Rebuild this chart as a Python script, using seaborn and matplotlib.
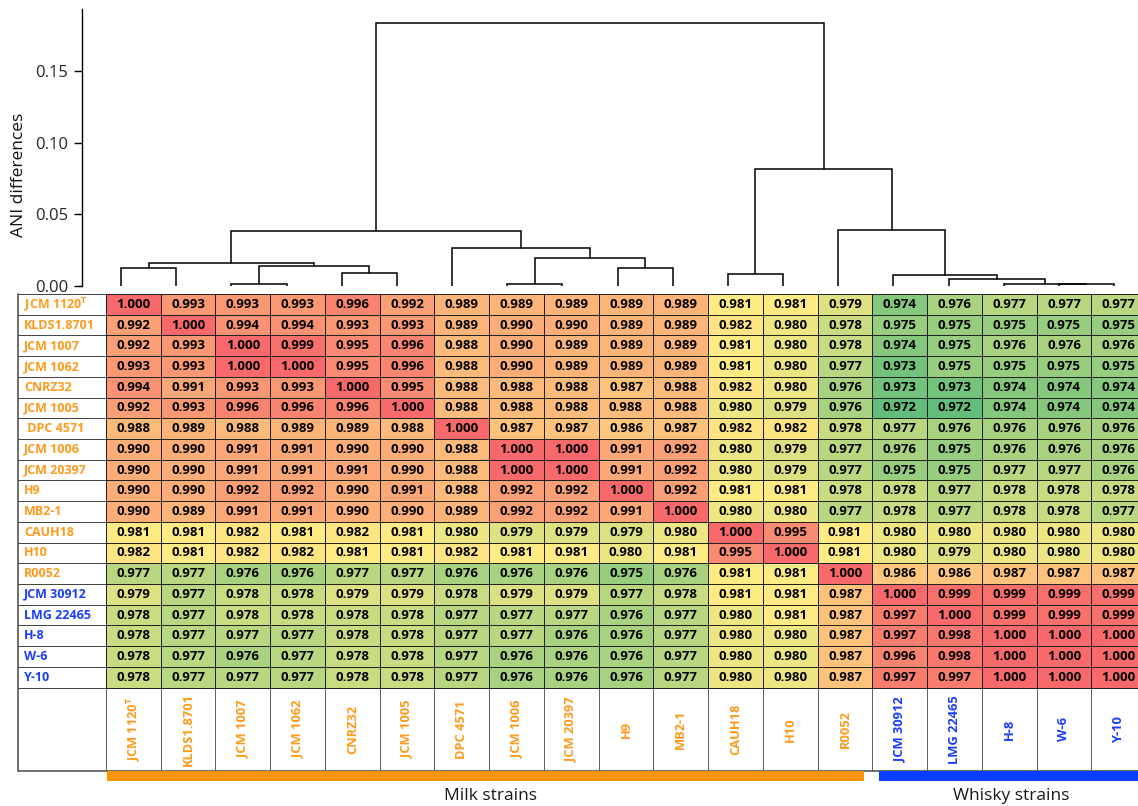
import numpy as np
import pandas as pd
import matplotlib
matplotlib.use("Agg")
import matplotlib.pyplot as plt
from matplotlib.patches import Rectangle
from matplotlib.colors import LinearSegmentedColormap
import seaborn as sns

# ---------------- data ----------------
row_labels = ["JCM 1120$^{\\mathregular{T}}$", "KLDS1.8701", "JCM 1007", "JCM 1062", "CNRZ32",
              "JCM 1005", " DPC 4571", "JCM 1006", "JCM 20397", "H9", "MB2-1", "CAUH18",
              "H10", "R0052", "JCM 30912", "LMG 22465", "H-8", "W-6", "Y-10"]
col_labels = ["JCM 1120$^{\\mathregular{T}}$", "KLDS1.8701", "JCM 1007", "JCM 1062", "CNRZ32",
              "JCM 1005", "DPC 4571", "JCM 1006", "JCM 20397", "H9", "MB2-1", "CAUH18",
              "H10", "R0052", "JCM 30912", "LMG 22465", "H-8", "W-6", "Y-10"]
origin = ["milk", "milk", "milk", "milk", "milk", "milk", "milk", "milk", "milk", "milk",
          "milk", "milk", "milk", "milk", "whisky", "whisky", "whisky", "whisky", "whisky"]

ani_values = [
    [1.000, 0.993, 0.993, 0.993, 0.996, 0.992, 0.989, 0.989, 0.989, 0.989, 0.989, 0.981, 0.981, 0.979, 0.974, 0.976, 0.977, 0.977, 0.977],
    [0.992, 1.000, 0.994, 0.994, 0.993, 0.993, 0.989, 0.990, 0.990, 0.989, 0.989, 0.982, 0.980, 0.978, 0.975, 0.975, 0.975, 0.975, 0.975],
    [0.992, 0.993, 1.000, 0.999, 0.995, 0.996, 0.988, 0.990, 0.989, 0.989, 0.989, 0.981, 0.980, 0.978, 0.974, 0.975, 0.976, 0.976, 0.976],
    [0.993, 0.993, 1.000, 1.000, 0.995, 0.996, 0.988, 0.990, 0.989, 0.989, 0.989, 0.981, 0.980, 0.977, 0.973, 0.975, 0.975, 0.975, 0.975],
    [0.994, 0.991, 0.993, 0.993, 1.000, 0.995, 0.988, 0.988, 0.988, 0.987, 0.988, 0.982, 0.980, 0.976, 0.973, 0.973, 0.974, 0.974, 0.974],
    [0.992, 0.993, 0.996, 0.996, 0.996, 1.000, 0.988, 0.988, 0.988, 0.988, 0.988, 0.980, 0.979, 0.976, 0.972, 0.972, 0.974, 0.974, 0.974],
    [0.988, 0.989, 0.988, 0.989, 0.989, 0.988, 1.000, 0.987, 0.987, 0.986, 0.987, 0.982, 0.982, 0.978, 0.977, 0.976, 0.976, 0.976, 0.976],
    [0.990, 0.990, 0.991, 0.991, 0.990, 0.990, 0.988, 1.000, 1.000, 0.991, 0.992, 0.980, 0.979, 0.977, 0.976, 0.975, 0.976, 0.976, 0.976],
    [0.990, 0.990, 0.991, 0.991, 0.991, 0.990, 0.988, 1.000, 1.000, 0.991, 0.992, 0.980, 0.979, 0.977, 0.975, 0.975, 0.977, 0.977, 0.976],
    [0.990, 0.990, 0.992, 0.992, 0.990, 0.991, 0.988, 0.992, 0.992, 1.000, 0.992, 0.981, 0.981, 0.978, 0.978, 0.977, 0.978, 0.978, 0.978],
    [0.990, 0.989, 0.991, 0.991, 0.990, 0.990, 0.989, 0.992, 0.992, 0.991, 1.000, 0.980, 0.980, 0.977, 0.978, 0.977, 0.978, 0.978, 0.977],
    [0.981, 0.981, 0.982, 0.981, 0.982, 0.981, 0.980, 0.979, 0.979, 0.979, 0.980, 1.000, 0.995, 0.981, 0.980, 0.980, 0.980, 0.980, 0.980],
    [0.982, 0.981, 0.982, 0.982, 0.981, 0.981, 0.982, 0.981, 0.981, 0.980, 0.981, 0.995, 1.000, 0.981, 0.980, 0.979, 0.980, 0.980, 0.980],
    [0.977, 0.977, 0.976, 0.976, 0.977, 0.977, 0.976, 0.976, 0.976, 0.975, 0.976, 0.981, 0.981, 1.000, 0.986, 0.986, 0.987, 0.987, 0.987],
    [0.979, 0.977, 0.978, 0.978, 0.979, 0.979, 0.978, 0.979, 0.979, 0.977, 0.978, 0.981, 0.981, 0.987, 1.000, 0.999, 0.999, 0.999, 0.999],
    [0.978, 0.977, 0.978, 0.978, 0.978, 0.978, 0.977, 0.977, 0.977, 0.976, 0.977, 0.980, 0.981, 0.987, 0.997, 1.000, 0.999, 0.999, 0.999],
    [0.978, 0.977, 0.977, 0.977, 0.978, 0.978, 0.977, 0.977, 0.976, 0.976, 0.977, 0.980, 0.980, 0.987, 0.997, 0.998, 1.000, 1.000, 1.000],
    [0.978, 0.977, 0.976, 0.977, 0.978, 0.978, 0.977, 0.976, 0.976, 0.976, 0.977, 0.980, 0.980, 0.987, 0.996, 0.998, 1.000, 1.000, 1.000],
    [0.978, 0.977, 0.977, 0.977, 0.978, 0.978, 0.977, 0.976, 0.976, 0.976, 0.977, 0.980, 0.980, 0.987, 0.997, 0.997, 1.000, 1.000, 1.000],
]

# dendrogram merges (leaf ids 0..18, new clusters numbered 19, 20, ...)
merge_left = [2, 7, 17, 16, 15, 14, 11, 4, 0, 9, 19, 27, 20, 6, 13, 30, 25, 34]
merge_right = [3, 8, 18, 21, 22, 23, 12, 5, 1, 10, 26, 29, 28, 31, 24, 32, 33, 35]
merge_height = [0.0014, 0.0014, 0.0012, 0.0016, 0.0051, 0.0075, 0.0082, 0.0089, 0.0126,
                0.0126, 0.0140, 0.0158, 0.0193, 0.0266, 0.0391, 0.0387, 0.0820, 0.1838]

group_names = ["Milk strains", "Whisky strains"]

# ---------------- style ----------------
sns.set_style("white")
plt.rcParams['font.family'] = ['Open Sans', 'DejaVu Sans']
plt.rcParams['mathtext.fontset'] = 'custom'
plt.rcParams['mathtext.rm'] = 'Open Sans:bold'

ORANGE = '#ff9a1a'
BLUE = '#1a3cff'
W, H = 1138, 806
fig = plt.figure(figsize=(W / 100, H / 100), dpi=100)


def box(x0, y0, x1, y1):
    return [x0 / W, 1 - y1 / H, (x1 - x0) / W, (y1 - y0) / H]


n = len(row_labels)

# ---------------- heatmap table ----------------
col_left, col_right = 106.0, 1146.1
tab_left, tab_top, rows_bottom, tab_bottom = 18.0, 294.0, 687.5, 771.0
col_w = (col_right - col_left) / n
row_h = (rows_bottom - tab_top) / n
label_w = (col_left - tab_left) / col_w
label_h = (tab_bottom - rows_bottom) / row_h

ax_h = fig.add_axes(box(tab_left, tab_top, col_right, tab_bottom))
df = pd.DataFrame(ani_values, index=row_labels, columns=col_labels)
cmap = LinearSegmentedColormap.from_list(
    "ani", [(0.0, '#63be7b'), (9 / 28, '#ffeb84'), (1.0, '#f8696b')])
sns.heatmap(df, ax=ax_h, cmap=cmap, vmin=0.972, vmax=1.0, annot=True, fmt=".3f",
            annot_kws=dict(fontsize=9.5, fontweight='bold', color='black'),
            linewidths=0.6, linecolor='#222222', cbar=False,
            xticklabels=False, yticklabels=False)
ax_h.set_xlim(-label_w, n)
ax_h.set_ylim(n + label_h, 0)
ax_h.set_xticks([])
ax_h.set_yticks([])
for s in ax_h.spines.values():
    s.set_visible(False)

lc = '#222222'
# label column grid
for r in range(n + 1):
    ax_h.plot([-label_w, 0], [r, r], color=lc, lw=0.6, clip_on=False)
ax_h.plot([-label_w, -label_w], [0, n + label_h], color='#555555', lw=1.2, clip_on=False)
# label row grid
for c in range(n + 1):
    ax_h.plot([c, c], [n, n + label_h], color='#444444', lw=0.6, clip_on=False)
ax_h.plot([-label_w, n], [n + label_h, n + label_h], color='#555555', lw=1.2, clip_on=False)

for i, (lab, org) in enumerate(zip(row_labels, origin)):
    color = ORANGE if org == "milk" else BLUE
    ax_h.text(-label_w + 6 / col_w, i + 0.5, lab, ha='left', va='center',
              fontsize=9, fontweight='bold', color=color)
for j, (lab, org) in enumerate(zip(col_labels, origin)):
    color = ORANGE if org == "milk" else BLUE
    ax_h.text(j + 0.5, n + label_h / 2, lab, ha='center', va='center', rotation=90,
              fontsize=9.3, fontweight='bold', color=color)

# ---------------- dendrogram ----------------
leaf0_px, leaf_step = 121.0, 55.17
d_left, d_top, d_bottom = 81.5, 9.0, 286.0
ax_d = fig.add_axes(box(d_left, d_top, W, d_bottom))
xpos = {i: float(i) for i in range(n)}
hts = {i: 0.0 for i in range(n)}
for k, (a, b, h) in enumerate(zip(merge_left, merge_right, merge_height)):
    xa, xb = xpos[a], xpos[b]
    ax_d.plot([xa, xa, xb, xb], [hts[a], h, h, hts[b]], color='black', lw=1.1,
              solid_joinstyle='miter')
    xpos[n + k] = (xa + xb) / 2
    hts[n + k] = h
ax_d.set_xlim(-(leaf0_px - d_left) / leaf_step, (W - leaf0_px) / leaf_step)
ax_d.set_ylim(0, (d_bottom - d_top) / 1431.0)
for s in ['top', 'right', 'bottom']:
    ax_d.spines[s].set_visible(False)
ax_d.spines['left'].set_color('black')
ax_d.spines['left'].set_linewidth(1.0)
ax_d.set_xticks([])
ax_d.set_yticks([0.0, 0.05, 0.10, 0.15])
ax_d.set_yticklabels(["0.00", "0.05", "0.10", "0.15"])
ax_d.tick_params(axis='y', direction='out', length=6, width=1, color='black',
                 labelsize=12, pad=3.5, left=True)
ax_d.set_facecolor('none')
fig.text(19 / W, 1 - 175 / H, "ANI differences", rotation=90, ha='center', va='center',
         fontsize=12.5, color='#111111')

# ---------------- group bars ----------------
fig.add_artist(Rectangle((107 / W, 1 - 781 / H), (864 - 107) / W, 10 / H,
                         transform=fig.transFigure, color='#ff9500', lw=0))
fig.add_artist(Rectangle((879 / W, 1 - 781 / H), (W - 879) / W, 10 / H,
                         transform=fig.transFigure, color='#0a3dff', lw=0))
fig.text(490 / W, 1 - 796 / H, group_names[0], ha='center', va='center', fontsize=12.5,
         color='#1a1a1a')
fig.text(1011 / W, 1 - 796 / H, group_names[1], ha='center', va='center', fontsize=12.5,
         color='#1a1a1a')

fig.savefig("out.png", dpi=100)
